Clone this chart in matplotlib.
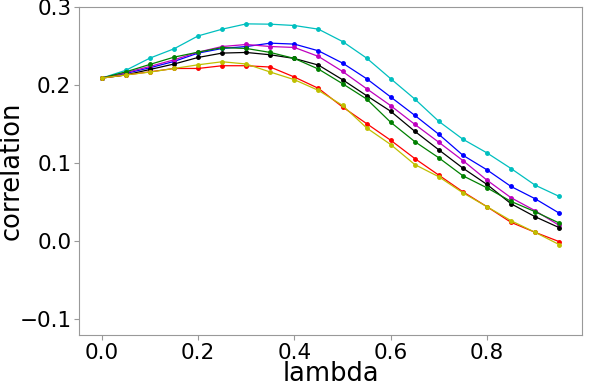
import matplotlib
matplotlib.use("Agg")
import matplotlib.pyplot as plt

lam = [0.0, 0.05, 0.1, 0.15, 0.2, 0.25, 0.3, 0.35, 0.4, 0.45,
       0.5, 0.55, 0.6, 0.65, 0.7, 0.75, 0.8, 0.85, 0.9, 0.95]

cyan = [0.209, 0.219, 0.2346, 0.2465, 0.263, 0.2716, 0.2784, 0.278, 0.2763, 0.2716,
        0.2558, 0.2346, 0.2082, 0.1822, 0.1536, 0.1307, 0.1132, 0.0932, 0.0719, 0.0575]
blue = [0.209, 0.215, 0.2222, 0.2303, 0.241, 0.2469, 0.2494, 0.2537, 0.2525, 0.2439,
        0.2282, 0.2082, 0.1848, 0.1613, 0.137, 0.1102, 0.0915, 0.0702, 0.0545, 0.0361]
magenta = [0.209, 0.216, 0.2239, 0.2324, 0.2422, 0.2494, 0.252, 0.2494, 0.2482, 0.2367,
           0.2175, 0.1954, 0.1737, 0.1498, 0.1268, 0.1034, 0.0783, 0.0558, 0.0392, 0.0204]
black = [0.209, 0.213, 0.220, 0.227, 0.2354, 0.241, 0.2418, 0.2388, 0.2341, 0.2256,
         0.2069, 0.1865, 0.1665, 0.1409, 0.1171, 0.0937, 0.0728, 0.0481, 0.0315, 0.0175]
green = [0.209, 0.217, 0.2265, 0.2358, 0.2422, 0.248, 0.2469, 0.2418, 0.2341, 0.2205,
         0.2018, 0.1822, 0.1524, 0.1277, 0.1069, 0.0839, 0.0685, 0.0511, 0.0379, 0.0234]
red = [0.209, 0.213, 0.217, 0.2213, 0.2213, 0.2248, 0.2248, 0.2231, 0.2103, 0.1958,
       0.172, 0.1507, 0.1294, 0.106, 0.0847, 0.0634, 0.0443, 0.0243, 0.0115, -0.0004]
yellow = [0.209, 0.213, 0.2167, 0.2213, 0.226, 0.2299, 0.227, 0.2167, 0.2069, 0.1932,
          0.174, 0.1452, 0.1239, 0.0983, 0.0826, 0.0621, 0.0443, 0.0264, 0.0115, -0.0042]

series = [(cyan, 'c'), (blue, 'b'), (magenta, 'm'), (black, 'k'),
          (green, 'g'), (red, 'r'), (yellow, 'y')]

fig = plt.figure(figsize=(5.98, 3.86), dpi=100)
ax = fig.add_axes([79/598, 1-335/386, (582-79)/598, (335-7)/386])
for vals, col in series:
    ax.plot(lam, vals, color=col, marker='o', markersize=2.5, linewidth=0.9)

ax.set_ylim(-0.12, 0.3)
ax.set_yticks([-0.1, 0.0, 0.1, 0.2, 0.3])
ax.set_xticks([0.0, 0.2, 0.4, 0.6, 0.8])
ax.set_xlabel('lambda', fontsize=18.5)
ax.set_ylabel('correlation', fontsize=18.5)
ax.xaxis.set_label_coords(0.5, -0.08)
ax.yaxis.set_label_coords(-0.108, 0.5)
ax.tick_params(labelsize=15.5, color='#999999', length=3.5, pad=2)
for s in ax.spines.values():
    s.set_color('#999999')

fig.savefig('out.png', dpi=100)
